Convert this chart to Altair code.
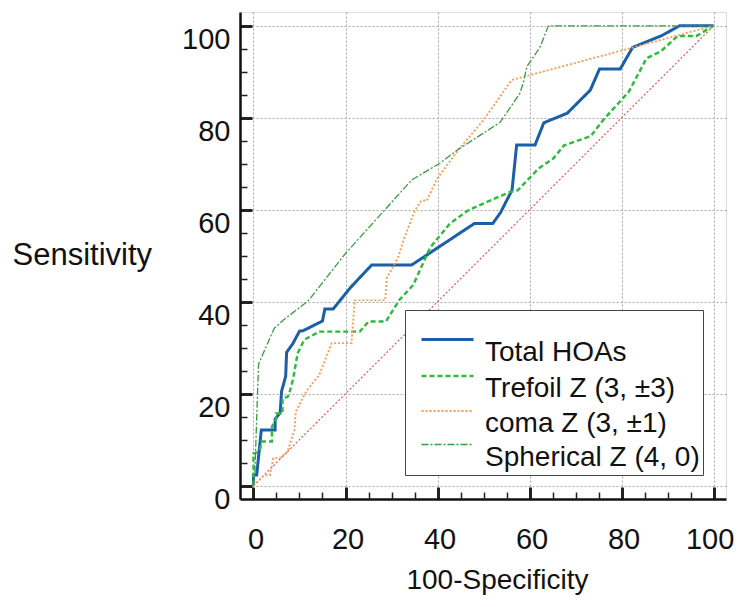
import altair as alt
import pandas as pd

FONT = "Liberation Sans"

SERIES = ["Total HOAs", "Trefoil Z (3, ±3)", "coma Z (3, ±1)", "Spherical Z (4, 0)"]
COLORS = ["#1a5fa8", "#2dbb3c", "#ff9a52", "#3a9a44"]
DASHES = [[1, 0], [5, 3], [2, 2], [7, 2, 2, 2]]
WIDTHS = [3, 1.3, 1.3, 1.3]

total_x = [0, 0, 0.7, 1.7, 4.7, 4.7, 5.8, 6.1, 7.0, 7.2, 8.5, 10.0, 10.8, 15.0, 15.5, 17.3, 21.1, 25.7, 34.4, 48.0,
           52.0, 53.7, 56.2, 57.2, 61.2, 63.1, 68.2, 73.2, 75.2, 79.7, 82.4, 88.8, 92.6, 100]
total_y = [0, 2.3, 2.3, 12.1, 12.1, 14.5, 15.8, 20.5, 23.8, 29.0, 30.8, 33.6, 33.7, 35.8, 38.4, 38.4, 43.1, 48.0, 48.0, 57.0,
           57.0, 59.4, 64.3, 74.1, 74.1, 78.9, 81.0, 86.0, 90.6, 90.6, 95.3, 97.9, 100, 100]

trefoil_x = [0, 0, 1.3, 1.8, 4.0, 4.0, 4.9, 4.9, 6.3, 6.3, 7.4, 7.8, 8.6, 9.6, 11.0, 14.3, 23.1, 25.0, 28.8, 31.7,
             34.7, 38.4, 42.7, 46.7, 55.8, 57.4, 62.0, 65.2, 67.5, 73.3, 76.0, 81.6, 85.4, 88.6, 92.2, 96.3, 100]
trefoil_y = [0, 7.0, 7.4, 9.6, 9.6, 12.8, 14.4, 15.7, 15.7, 19.0, 19.3, 20.1, 23.2, 28.8, 31.7, 33.5, 33.5, 35.7, 35.7, 40.4,
             43.6, 51.8, 57.0, 59.9, 63.9, 64.2, 69.0, 71.2, 74.0, 76.0, 79.5, 85.7, 92.9, 94.5, 97.8, 97.8, 100]

coma_x = [0, 2.3, 3.6, 4.3, 5.7, 7.4, 8.9, 9.2, 11.5, 14.3, 17.0, 21.3, 22.0, 28.6, 29.0, 31.5, 32.6, 35.1, 36.5, 37.7,
          39.8, 44.5, 50.0, 56.1, 100]
coma_y = [0, 2.2, 2.3, 6.0, 6.0, 7.4, 12.1, 16.1, 20.6, 24.1, 31.0, 31.0, 40.3, 40.3, 45.2, 49.8, 53.4, 59.9, 62.0, 62.0,
          66.6, 73.0, 79.5, 88.2, 100]

spherical_x = [0, 0.3, 0.9, 1.1, 2.0, 4.5, 6.5, 11.9, 20.0, 28.2, 34.4, 40.5, 44.6, 53.6, 57.9, 58.7, 59.4, 62.3, 64.1, 100]
spherical_y = [0, 2.7, 20.8, 26.4, 28.5, 34.2, 36.0, 40.2, 50.5, 59.6, 66.5, 70.1, 73.2, 79.0, 85.3, 87.8, 91.1, 95.4, 100, 100]

diag_x = [0, 100]
diag_y = [0, 100]

major_ticks = [0, 20, 40, 60, 80, 100]
minor_ticks = [5, 10, 15, 25, 30, 35, 45, 50, 55, 65, 70, 75, 85, 90, 95]

rows = []
for name, xs_, ys_ in [(SERIES[0], total_x, total_y), (SERIES[1], trefoil_x, trefoil_y),
                       (SERIES[2], coma_x, coma_y), (SERIES[3], spherical_x, spherical_y)]:
    for i, (a, b) in enumerate(zip(xs_, ys_)):
        rows.append({"series": name, "x": a, "y": b, "i": i})
df = pd.DataFrame(rows)
diag_df = pd.DataFrame({"x": diag_x, "y": diag_y, "i": [0, 1]})

XDOM = [-2.93, 102.7]
YDOM = [-2.9, 103.0]
xs = alt.Scale(domain=XDOM, nice=False, zero=False)
ys = alt.Scale(domain=YDOM, nice=False, zero=False)

x_main = alt.Axis(values=major_ticks, orient="bottom", grid=True, gridDash=[2, 2], gridColor="#a8a8a8", gridWidth=1,
                  domain=True, domainColor="#111111", domainWidth=2.5, ticks=False, tickSize=0,
                  labelFont=FONT, labelFontSize=29, labelColor="#111111", labelPadding=40, labelBaseline="middle",
                  labelOffset={"condition": {"test": "datum.value == 100", "value": -4}, "value": 2},
                  labelFlush=False, labelOverlap=False,
                  title="100-Specificity", titleFont=FONT, titleFontSize=28, titleFontWeight="normal",
                  titleColor="#111111", titleX=257, titleY=81, titleBaseline="middle")
y_main = alt.Axis(values=major_ticks, orient="left", grid=True, gridDash=[2, 2], gridColor="#a8a8a8", gridWidth=1,
                  domain=True, domainColor="#111111", domainWidth=2.5, ticks=False, tickSize=0,
                  labelFont=FONT, labelFontSize=29, labelColor="#111111", labelPadding=10, labelOffset=14,
                  labelFlush=False, labelOverlap=False,
                  title="Sensitivity", titleFont=FONT, titleFontSize=31, titleFontWeight="normal",
                  titleColor="#111111", titleAngle=0, titleAlign="left", titleBaseline="middle",
                  titleX=-228, titleY=243)


def tick_axis(orient, values, size, width):
    return alt.Axis(values=values, orient=orient, offset=-size, domain=False, grid=False, labels=False,
                    ticks=True, tickSize=size, tickWidth=width, tickColor="#222222", title="")


legend = alt.Legend(title=" ", orient="none", legendX=165, legendY=298, padding=3,
                    fillColor="white", strokeColor="#444444",
                    labelFont=FONT, labelFontSize=28, labelColor="#111111", labelLimit=600,
                    labelBaseline="middle", labelOffset=36,
                    symbolType="M-1,-1H3", symbolSize=676, symbolOffset=12, rowPadding=3.5,
                    titleFontSize=10, titlePadding=15)

diag = alt.Chart(diag_df).mark_line(color="#e05a5a", strokeDash=[2, 2], strokeWidth=1.2).encode(
    x=alt.X("x:Q", scale=xs, axis=tick_axis("bottom", major_ticks, 12, 3)),
    y=alt.Y("y:Q", scale=ys, axis=tick_axis("left", major_ticks, 12, 3)),
    order="i:Q",
)

lines = alt.Chart(df).mark_line().encode(
    x=alt.X("x:Q", scale=xs, axis=x_main),
    y=alt.Y("y:Q", scale=ys, axis=y_main),
    color=alt.Color("series:N", scale=alt.Scale(domain=SERIES, range=COLORS), legend=legend),
    strokeDash=alt.StrokeDash("series:N", scale=alt.Scale(domain=SERIES, range=DASHES), legend=legend),
    strokeWidth=alt.StrokeWidth("series:N", scale=alt.Scale(domain=SERIES, range=WIDTHS), legend=legend),
    order="i:Q",
)

ghost = alt.Chart(diag_df).mark_line(opacity=0).encode(
    x=alt.X("x:Q", scale=xs, axis=tick_axis("bottom", minor_ticks, 7, 1.5)),
    y=alt.Y("y:Q", scale=ys, axis=tick_axis("left", minor_ticks, 7, 1.5)),
    order="i:Q",
)

chart = alt.layer(diag, lines, ghost).resolve_axis(x="independent", y="independent").properties(
    width=486, height=487,
    autosize=alt.AutoSizeParams(type="none"),
    padding={"left": 232, "top": 4, "right": 8, "bottom": 96},
).configure_view(stroke="transparent").configure_legend(strokeWidth=3).configure(font=FONT)

chart.save("out.html", embed_options={"renderer": "svg", "actions": False})
